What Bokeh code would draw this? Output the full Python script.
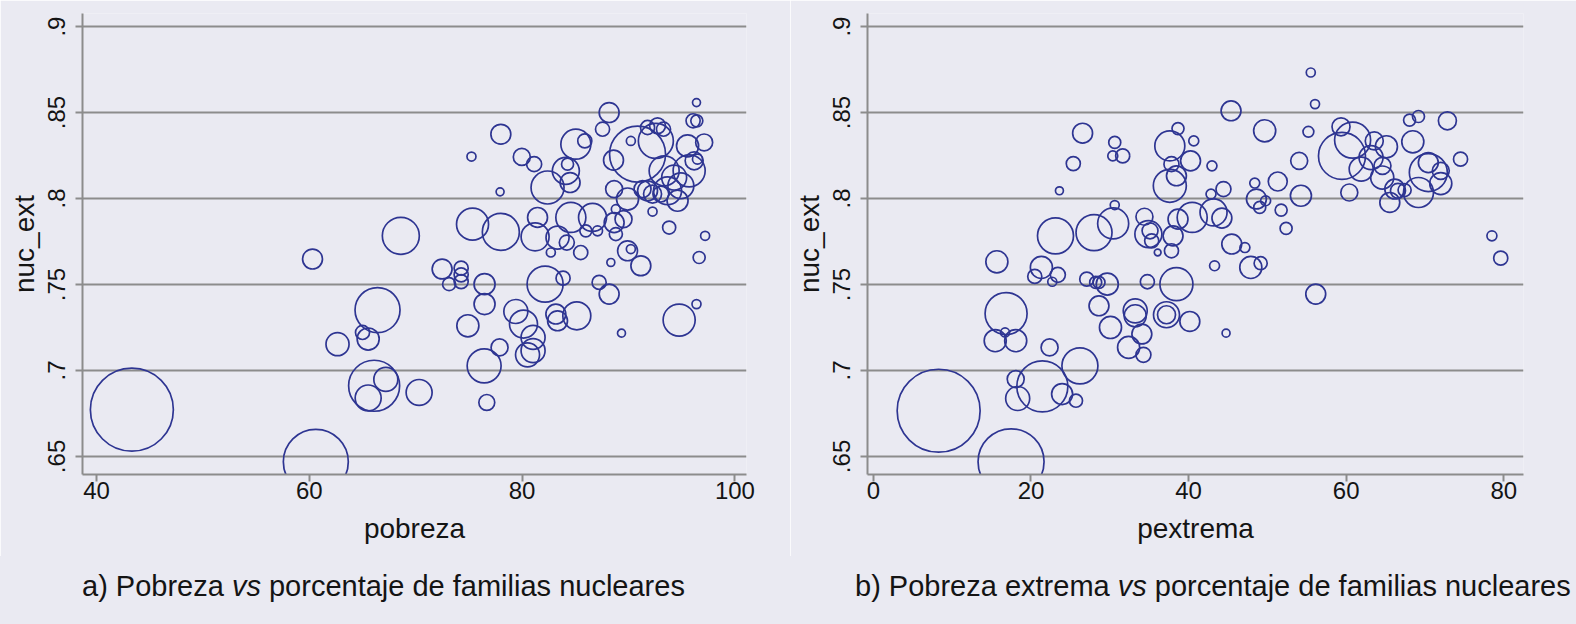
import math
from bokeh.plotting import figure
from bokeh.layouts import row, column
from bokeh.models import ColumnDataSource, FixedTicker, CustomJSTickFormatter, Div
from bokeh.embed import file_html
from bokeh.resources import INLINE

# panel a: pobreza vs nuc_ext (peso = tamaño de la población)
pobreza = [43.32, 60.61, 62.65, 68.60, 60.30, 72.48, 73.14, 74.27, 74.27, 74.27,
           76.47, 76.47, 74.90, 66.41, 65.00, 65.53, 66.09, 67.19, 65.53, 70.32,
           76.43, 77.88, 76.68, 82.16, 83.85, 79.41, 80.13, 81.03, 81.03, 80.51,
           83.17, 83.33, 85.14, 75.34, 78.00, 81.45, 81.22, 83.33, 82.70, 84.20,
           84.58, 77.93, 78.00, 75.24, 79.97, 81.13, 85.05, 85.89, 84.11, 84.27,
           84.51, 82.39, 88.18, 87.56, 90.22, 88.59, 90.85, 92.57, 91.79, 92.73,
           93.29, 95.55, 97.11, 96.39, 96.07, 96.42, 93.35, 94.29, 95.70, 96.17,
           96.48, 93.67, 94.61, 88.65, 89.91, 91.32, 92.26, 93.04, 92.26, 93.82,
           97.20, 96.64, 89.53, 88.65, 88.81, 89.91, 90.22, 91.16, 88.34, 85.51,
           86.62, 85.99, 87.09, 88.81, 87.24, 88.18, 94.76, 89.34, 96.39, 94.92,
           91.79]
nuc_ext_a = [0.6772, 0.6469, 0.7153, 0.7783, 0.7648, 0.7590, 0.7502, 0.7595, 0.7556, 0.7517,
             0.7502, 0.7386, 0.7260, 0.7351, 0.7221, 0.7183, 0.6911, 0.6948, 0.6840, 0.6872,
             0.7027, 0.7134, 0.6814, 0.7502, 0.7537, 0.7343, 0.7270, 0.7192, 0.7115, 0.7091,
             0.7328, 0.7289, 0.7318, 0.7851, 0.7806, 0.7890, 0.7777, 0.7773, 0.7686, 0.7744,
             0.7890, 0.8039, 0.8374, 0.8244, 0.8242, 0.8200, 0.8316, 0.8335, 0.8161, 0.8200,
             0.8093, 0.8064, 0.8500, 0.8403, 0.8335, 0.8223, 0.8258, 0.8335, 0.8413, 0.8423,
             0.8403, 0.8306, 0.8326, 0.8558, 0.8452, 0.8452, 0.8161, 0.8122, 0.8161, 0.8219,
             0.8229, 0.8045, 0.7987, 0.8055, 0.7997, 0.8055, 0.8026, 0.8026, 0.7924, 0.7831,
             0.7783, 0.7657, 0.7880, 0.7860, 0.7938, 0.7696, 0.7706, 0.7609, 0.7628, 0.7686,
             0.7890, 0.7812, 0.7812, 0.7793, 0.7512, 0.7444, 0.7293, 0.7217, 0.7386, 0.8074,
             0.8045]
peso_a = [765, 469, 59, 152, 44, 44, 19, 22, 22, 22,
          49, 49, 54, 225, 22, 54, 289, 64, 75, 75,
          128, 32, 28, 144, 22, 64, 87, 64, 64, 64,
          44, 44, 87, 114, 152, 44, 87, 59, 9, 25,
          100, 7, 44, 9, 32, 25, 100, 22, 81, 16,
          44, 121, 44, 22, 9, 44, 348, 136, 22, 28,
          22, 54, 32, 7, 22, 16, 100, 69, 114, 36,
          11, 87, 49, 32, 54, 32, 36, 28, 9, 19,
          9, 16, 32, 44, 9, 44, 9, 44, 7, 22,
          87, 16, 11, 19, 22, 44, 114, 7, 9, 75,
          44]

# panel b: pextrema vs nuc_ext
pextrema = [8.28, 17.47, 16.84, 15.46, 18.06, 16.71, 22.36, 26.21, 21.44, 18.06,
            18.31, 23.95, 25.71, 28.63, 30.09, 32.39, 33.23, 33.23, 34.07, 34.27,
            37.20, 37.20, 40.16, 44.76, 56.14, 26.55, 30.63, 30.38, 31.64, 25.37,
            23.61, 30.63, 23.11, 28.00, 30.43, 15.67, 21.32, 20.48, 23.41, 22.70,
            27.08, 28.21, 28.63, 29.68, 34.77, 34.40, 34.90, 35.11, 35.32, 36.08,
            37.83, 38.03, 38.66, 37.62, 37.83, 38.46, 37.62, 38.66, 38.46, 55.51,
            56.05, 45.39, 49.66, 55.21, 40.66, 40.25, 42.97, 54.04, 51.32, 48.40,
            44.43, 42.85, 54.26, 48.61, 49.03, 49.78, 51.75, 52.38, 43.17, 44.23,
            40.46, 45.48, 47.15, 43.30, 47.90, 49.15, 59.47, 60.82, 59.35, 63.57,
            65.11, 63.16, 61.91, 64.61, 64.58, 66.17, 66.58, 67.42, 65.54, 60.40,
            69.18, 70.43, 70.43, 72.01, 72.01, 68.46, 68.05, 69.18, 72.85, 74.52,
            78.50, 79.62]
nuc_ext_b = [0.6766, 0.6469, 0.7331, 0.7173, 0.7173, 0.7221, 0.7134, 0.7027, 0.6907, 0.6950,
             0.6837, 0.6863, 0.6824, 0.7376, 0.7250, 0.7134, 0.7318, 0.7347, 0.7212, 0.7091,
             0.7324, 0.7324, 0.7285, 0.7217, 0.7444, 0.8380, 0.8326, 0.8248, 0.8248, 0.8203,
             0.8045, 0.7962, 0.7783, 0.7802, 0.7855, 0.7632, 0.7599, 0.7547, 0.7556, 0.7516,
             0.7531, 0.7512, 0.7512, 0.7502, 0.7516, 0.7894, 0.7793, 0.7812, 0.7754, 0.7686,
             0.7696, 0.7783, 0.8407, 0.8306, 0.8200, 0.8132, 0.8074, 0.7880, 0.7502, 0.8733,
             0.8549, 0.8510, 0.8394, 0.8388, 0.8335, 0.8219, 0.8190, 0.8219, 0.8099, 0.8090,
             0.8055, 0.8026, 0.8016, 0.7997, 0.7948, 0.7987, 0.7933, 0.7826, 0.7919, 0.7886,
             0.7890, 0.7735, 0.7715, 0.7609, 0.7599, 0.7624, 0.8248, 0.8340, 0.8417, 0.8335,
             0.8301, 0.8238, 0.8171, 0.8190, 0.8122, 0.8055, 0.8045, 0.8049, 0.7977, 0.8035,
             0.8035, 0.8151, 0.8209, 0.8161, 0.8087, 0.8330, 0.8456, 0.8477, 0.8452, 0.8229,
             0.7783, 0.7653]
peso_b = [765, 484, 196, 54, 54, 9, 32, 144, 289, 32,
          64, 49, 19, 44, 54, 54, 54, 64, 44, 25,
          75, 36, 44, 7, 44, 44, 16, 11, 22, 22,
          7, 9, 144, 144, 107, 54, 54, 22, 25, 9,
          22, 16, 16, 54, 22, 32, 81, 28, 22, 5,
          22, 44, 16, 100, 25, 44, 121, 44, 121, 9,
          9, 44, 54, 13, 11, 44, 11, 32, 40, 11,
          25, 11, 49, 44, 16, 11, 16, 16, 81, 44,
          100, 44, 11, 11, 54, 19, 245, 144, 36, 36,
          54, 64, 64, 32, 59, 44, 25, 19, 44, 32,
          100, 160, 44, 32, 54, 54, 16, 16, 36, 22,
          11, 22]

y_ticks = [0.65, 0.7, 0.75, 0.8, 0.85, 0.9]
x_ticks_a = [40, 60, 80, 100]
x_ticks_b = [0, 20, 40, 60, 80]

BG = "#eaeaf2"
GRID = "#8c8c8c"
MARK = "#2e3592"
FONT = "Liberation Sans"
TXT = "#141414"


def panel(xs, ys, pesos, x_range, x_ticks, x_label, width, left, right):
    p = figure(width=width, height=556, x_range=x_range, y_range=(0.6395, 0.9076),
               output_backend="svg", toolbar_location=None,
               min_border_left=left, min_border_right=right,
               min_border_top=13, min_border_bottom=82,
               background_fill_color=BG, border_fill_color=BG,
               outline_line_color=None)
    src = ColumnDataSource(data=dict(
        x=xs, y=ys, size=[3 * math.sqrt(w) for w in pesos]))
    p.scatter('x', 'y', size='size', source=src, marker="circle",
              fill_color=None, line_color=MARK, line_width=1.7)

    p.xgrid.visible = False
    p.ygrid.ticker = FixedTicker(ticks=y_ticks)
    p.ygrid.grid_line_color = GRID
    p.ygrid.grid_line_width = 2

    p.yaxis.ticker = FixedTicker(ticks=y_ticks)
    p.yaxis.formatter = CustomJSTickFormatter(
        code="return tick.toFixed(2).replace(/0$/, '').replace(/^0/, '');")
    p.yaxis.major_label_orientation = "vertical"
    p.yaxis.axis_label = "nuc_ext"
    p.yaxis.major_label_standoff = 10
    p.yaxis.axis_label_standoff = 6
    p.xaxis.ticker = FixedTicker(ticks=x_ticks)
    p.xaxis.axis_label = x_label
    p.xaxis.major_label_standoff = 0
    p.xaxis.axis_label_standoff = 11

    for ax in (p.xaxis, p.yaxis):
        ax.axis_line_color = GRID
        ax.axis_line_width = 2
        ax.major_tick_line_color = GRID
        ax.major_tick_line_width = 2
        ax.major_tick_in = 0
        ax.major_tick_out = 7
        ax.minor_tick_line_color = None
        ax.major_label_text_font = FONT
        ax.major_label_text_font_size = "24px"
        ax.major_label_text_color = TXT
        ax.axis_label_text_font = FONT
        ax.axis_label_text_font_size = "28px"
        ax.axis_label_text_font_style = "normal"
        ax.axis_label_text_color = TXT
    return p


def caption(html, width, left):
    # strip under a panel holding its caption, "vs" in italics
    inner = ('<div style="padding:14px 0 0 %dpx; font-family:\'Liberation Sans\'; '
             'font-size:29px; line-height:33px; color:%s; white-space:nowrap">%s</div>'
             % (left, TXT, html))
    return Div(text=inner, width=width, height=68, margin=(0, 0, 0, 0),
               styles={"background-color": BG, "overflow": "hidden"})


pa = panel(pobreza, nuc_ext_a, peso_a, (38.68, 101.09), x_ticks_a, "pobreza",
           790, 82, 44)
pb = panel(pextrema, nuc_ext_b, peso_b, (-0.75, 82.51), x_ticks_b, "pextrema",
           786, 69, 53)
ca = caption("a) Pobreza <i>vs</i> porcentaje de familias nucleares", 790, 82)
cb = caption("b) Pobreza extrema <i>vs</i> porcentaje de familias nucleares", 786, 65)

open("out.html", "w").write(file_html(column(row(pa, pb), row(ca, cb)), INLINE))
